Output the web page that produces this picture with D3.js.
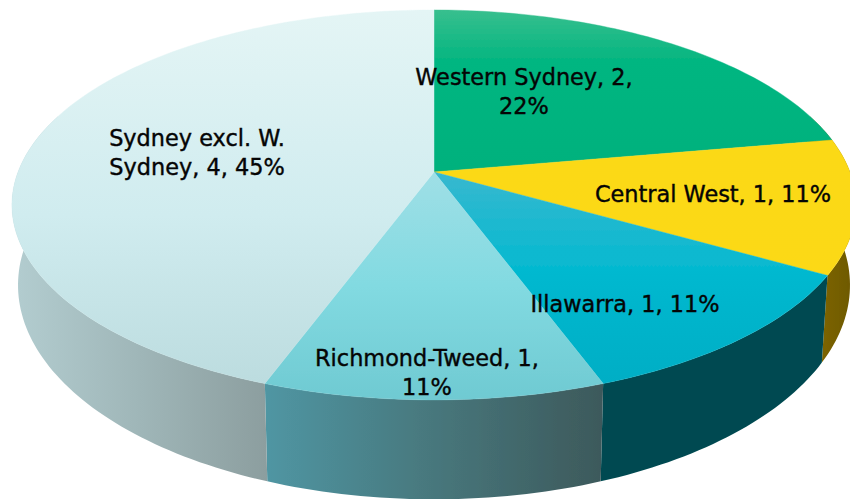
<!DOCTYPE html>
<html>
<head>
<meta charset="utf-8">
<script src="https://cdn.jsdelivr.net/npm/d3@7/dist/d3.min.js"></script>
<style>
html, body { margin: 0; padding: 0; background: #fff; overflow: hidden; }
svg { display: block; }
text { font-family: "DejaVu Sans", sans-serif; font-size: 22.4px; fill: #050505; }
</style>
</head>
<body>
<div id="vis-container"></div>
<script>
const regions = ["Western Sydney", "Central West", "Illawarra", "Richmond-Tweed", "Sydney excl. W. Sydney"];
const counts = [2, 1, 1, 1, 4];
const percents = [22, 11, 11, 11, 45];
const labelLines = [
    ["Western Sydney, 2,", "22%"],
    ["Central West, 1, 11%"],
    ["Illawarra, 1, 11%"],
    ["Richmond-Tweed, 1,", "11%"],
    ["Sydney excl. W.", "Sydney, 4, 45%"]
];
const labelAnchors = [[524, 85], [713, 202], [625, 312], [427, 366], [197, 146]];

// [offset, colour] stops, top face runs top to bottom, wall runs left to right
const topStops = [
    [[0, "#38bf8e"], [0.3, "#06b681"], [1, "#05b17d"]],
    [[0, "#fbd917"], [1, "#fcd914"]],
    [[0, "#38b8cf"], [0.45, "#06b9d0"], [1, "#00aec5"]],
    [[0, "#9fdfe6"], [0.5, "#82dae1"], [1, "#6fcad2"]],
    [[0, "#e4f5f5"], [0.55, "#d0ecef"], [1, "#bcdcdf"]]
];
const wallStops = [
    [[0, "#7d6400"], [1, "#6b5700"]],
    [[0, "#7d6400"], [1, "#6b5700"]],
    [[0, "#004a51"], [1, "#004a51"]],
    [[0, "#5096a3"], [0.5, "#47777c"], [1, "#3d595b"]],
    [[0, "#b3cdd0"], [0.5, "#9fb6b8"], [1, "#8c9e9f"]]
];

const width = 850, height = 499;
const cx = 434;
const persp = 0.169;
const topDisc = {rx: 416, ry: 189.4, y0: 172};
const baseDisc = {rx: 410, ry: 208, y0: 249};

// disc angle (clockwise from 12 o'clock) to screen point, with a bit of perspective
let project = function(disc, a){
    let u = Math.sin(a), v = Math.cos(a), w = 1 + persp * v;
    return [cx + disc.rx * u / w, disc.y0 - disc.ry * v / w];
};

let arcPoints = function(disc, a0, a1){
    let n = Math.max(2, Math.ceil((a1 - a0) / 0.02));
    return d3.range(n + 1).map(i => project(disc, a0 + (a1 - a0) * i / n));
};

let svg = d3.select("#vis-container")
    .append("svg")
    .attr("width", width)
    .attr("height", height)
    .attr("viewBox", `0 0 ${width} ${height}`);

let defs = svg.append("defs");
defs.append("filter")
    .attr("id", "soft")
    .append("feGaussianBlur")
    .attr("stdDeviation", 0.5);

let addGradient = function(id, stops, x1, y1, x2, y2){
    let g = defs.append("linearGradient")
        .attr("id", id)
        .attr("gradientUnits", "userSpaceOnUse")
        .attr("x1", x1).attr("y1", y1)
        .attr("x2", x2).attr("y2", y2);
    stops.forEach(s => g.append("stop").attr("offset", s[0]).attr("stop-color", s[1]));
};

const pie = d3.pie().sort(null)(counts);
const line = d3.line();
const chart = svg.append("g").attr("filter", "url(#soft)");

// walls, only the front half can be seen
const wallFrom = Math.PI * 0.4, wallTo = Math.PI * 1.6;
pie.forEach((d, i) => {
    let a0 = Math.max(d.startAngle, wallFrom), a1 = Math.min(d.endAngle, wallTo);
    if(a1 <= a0) return;
    let rim = arcPoints(topDisc, a0, a1),
        base = arcPoints(baseDisc, a0, a1).reverse();
    let xs = rim.concat(base).map(p => p[0]);
    addGradient("wall" + i, wallStops[i], d3.min(xs), 0, d3.max(xs), 0);
    chart.append("path")
        .attr("d", line(rim.concat(base)) + "Z")
        .attr("fill", `url(#wall${i})`);
});

// top face
pie.forEach((d, i) => {
    let rim = arcPoints(topDisc, d.startAngle, d.endAngle);
    let pts = [[cx, topDisc.y0]].concat(rim);
    addGradient("top" + i, topStops[i], 0, d3.min(pts, p => p[1]), 0, d3.max(pts, p => p[1]));
    chart.append("path")
        .attr("d", line(pts) + "Z")
        .attr("fill", `url(#top${i})`)
        .attr("stroke", `url(#top${i})`)
        .attr("stroke-width", 0.4);
});

// labels
svg.selectAll(".pie_label")
    .data(regions)
    .enter().append("text")
    .attr("class", "pie_label")
    .attr("text-anchor", "middle")
    .attr("stroke", "#050505")
    .attr("stroke-width", 0.4)
    .each(function(d, i){
        d3.select(this).selectAll("tspan")
            .data(labelLines[i])
            .enter().append("tspan")
            .attr("x", labelAnchors[i][0])
            .attr("y", (l, j) => labelAnchors[i][1] + j * 29)
            .text(l => l);
    });
</script>
</body>
</html>
